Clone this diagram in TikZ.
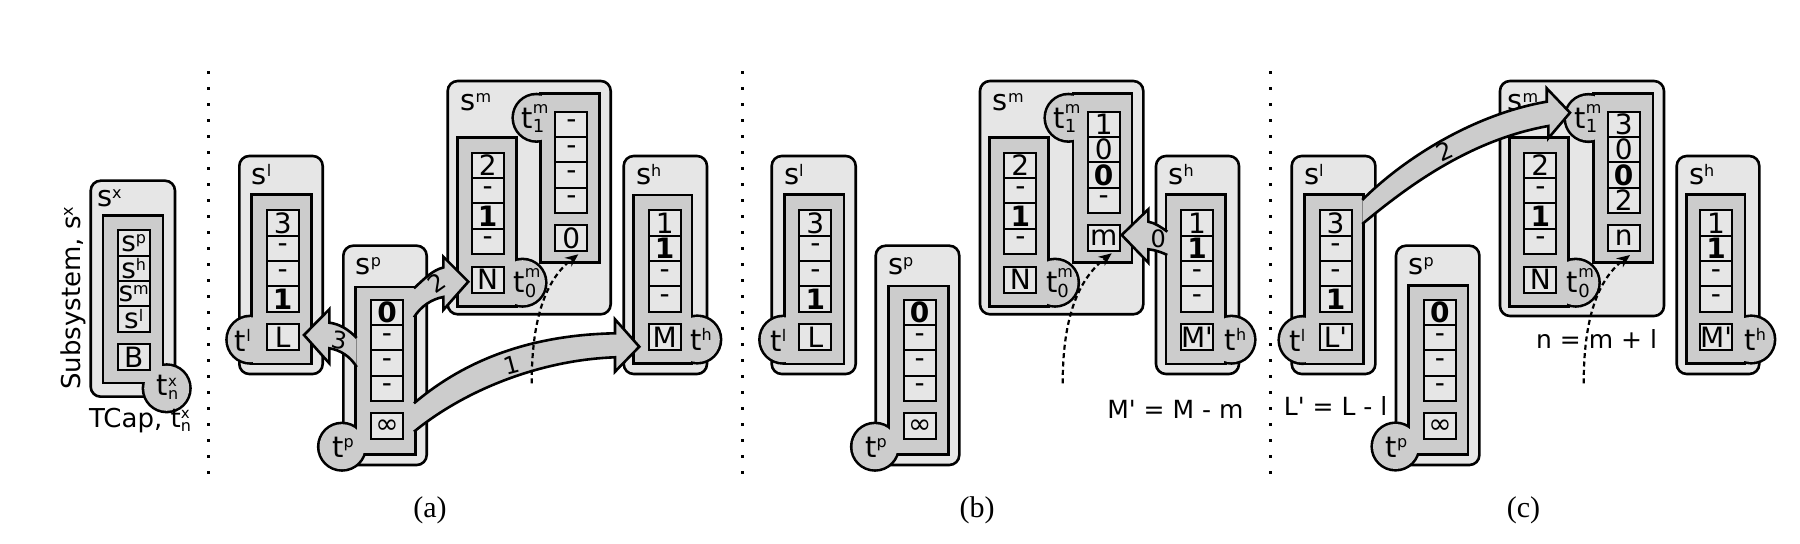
\documentclass[tikz,border=0pt]{standalone}
\usepackage{fontspec}
\setmainfont{DejaVu Sans}
\newfontfamily\serifpanel{Liberation Serif}
\usetikzlibrary{arrows.meta}
\definecolor{outerc}{HTML}{E6E6E6}
\definecolor{innerc}{HTML}{CCCCCC}
\definecolor{cellc}{HTML}{E6E6E6}
\newcommand\fs[1]{\fontsize{#1}{#1}\selectfont}
\newcommand\spx[2]{#1\raisebox{3.9pt}{\fs{8}#2}}
\newcommand\tpx[2]{#1\raisebox{5.2pt}{\fs{8}#2}}
\newcommand\tss[3]{#1\rlap{\raisebox{7.5pt}{\fs{8}#2}}\raisebox{-2.3pt}{\fs{9}#3}}
\newcommand\tsx[3]{#1\rlap{\raisebox{4.6pt}{\fs{7.5}#2}}\raisebox{-1.8pt}{\fs{8}#3}}
\newcommand\q{\textquotesingle}
\newcommand\thread[5]{%
  \draw[line width=2.6pt, fill=innerc] (#1,#2) rectangle (#3,#4);
  \draw[line width=2.6pt, fill=innerc] #5 circle[radius=11.25pt];
  \fill[innerc] (#1,#2) rectangle (#3,#4);
  \fill[innerc] #5 circle[radius=11.25pt];
}
\newcommand\stack[4]{\foreach \v [count=\i] in {#4} {\node[cell] (#1\i) at (#2,{#3+(\i-1)*25.4}) {\v};}}
\newcommand\bigarrow[1]{\fill[innerc] #1 -- cycle; \draw[arrline] #1;}
\tikzset{
  outerbox/.style={draw, fill=outerc, line width=1.3pt, rounded corners=5pt},
  cell/.style={draw, fill=cellc, line width=1pt, minimum width=16pt, minimum height=12.7pt, inner sep=0pt, anchor=north west, font=\fs{14}},
  tcell/.style={cell, minimum height=13pt},
  slabel/.style={anchor=base west, inner sep=0pt, font=\fs{14.5}},
  tlabel/.style={anchor=base, inner sep=0pt, font=\fs{14.5}},
  arrline/.style={draw, line width=1.3pt, line join=miter},
  alabel/.style={font=\fs{12}, inner sep=0pt},
  eq/.style={anchor=base, inner sep=0pt, font=\fs{12.5}},
  dasharrow/.style={line width=1.1pt, dash pattern=on 2.5pt off 1.7pt, -{Stealth[length=6.5pt,width=5.5pt]}},
  panel/.style={font=\serifpanel\fs{15}, inner sep=0pt},
}
\begin{document}
\begin{tikzpicture}[x=0.5pt,y=-0.5pt]
\fill[white] (0,0) rectangle (1800,544);
\useasboundingbox (0,0) rectangle (1800,544);
% dotted separators
\foreach \xx in {208.7,742.3,1270.3} {\foreach \k in {0,...,25} {\fill ({\xx-1.75},{72.7+16*\k-1.75}) rectangle ++(3.5,3.5);}}
% ===== panel x =====
\draw[outerbox] (90.7,180.7) rectangle (175,396.7);
\thread{104.3}{216.7}{161.7}{381.7}{(166.7,388.3)}
\stack{x}{116.7}{229.3}{\spx{s}{p},\spx{s}{h},\spx{s}{m},\spx{s}{l}}
\node[tcell] (xB) at (116.7,343.3) {B};
\node[tlabel] (xt) at (167.5,396) {\tsx{t}{x}{n}};
\node[slabel] (xs) at (96.7,206.7) {\spx{s}{x}};
\node[eq, font=\fs{13}, rotate=90] (subsys) at (80.7,298.3) {Subsystem, \spx{s}{x}};
\node[eq, font=\fs{13}] (tcap) at (140,427.5) {TCap, \tsx{t}{x}{n}};
% ===== panel a =====
\draw[outerbox] (239.3,156) rectangle (322.7,374);
\draw[outerbox] (343.3,245.7) rectangle (426.7,465);
\draw[outerbox] (447.7,81) rectangle (610.7,314.3);
\draw[outerbox] (623.7,156) rectangle (707,374);
\thread{252.7}{196}{310}{362.7}{(250.3,339.7)}
\thread{356.7}{288.3}{414}{453.3}{(342,446.7)}
\thread{458.7}{139}{515}{305}{(522.5,282.7)}
\thread{541.7}{95}{598.3}{261}{(536.5,117.8)}
\thread{635}{196.5}{690.7}{362}{(697.3,339.5)}
\stack{al}{265.7}{209.3}{3,-,-,\bfseries 1}
\node[tcell] (alT) at (265.7,323.3) {L};
\stack{ap}{370}{298.7}{\bfseries 0,-,-,-}
\node[tcell] (apT) at (370,412.3) {∞};
\stack{am}{470.7}{151.7}{2,-,\bfseries 1,-}
\node[tcell] (amT) at (470.7,265.7) {N};
\stack{an}{554.3}{110.7}{-,-,-,-}
\node[tcell] (anT) at (554.3,224) {0};
\stack{ah}{647.7}{209.3}{1,\bfseries 1,-,-}
\node[tcell] (ahT) at (647.7,323.3) {M};
\node[slabel] (als) at (251.3,184.5) {\spx{s}{l}};
\node[slabel] (aps) at (355.3,274.2) {\spx{s}{p}};
\node[slabel] (ams) at (460.2,110.5) {\spx{s}{m}};
\node[slabel] (ahs) at (635.7,184.5) {\spx{s}{h}};
\node[tlabel] (alt) at (242.8,351.5) {\tpx{t}{l}};
\node[tlabel] (apt) at (343,458) {\tpx{t}{p}};
\node[tlabel] (am0) at (525,292.7) {\tss{t}{m}{0}};
\node[tlabel] (am1) at (533,128.3) {\tss{t}{m}{1}};
\node[tlabel] (aht) at (701,351) {\tpx{t}{h}};
% ===== panel b =====
\draw[outerbox] (771.7,156) rectangle (855.7,374);
\draw[outerbox] (875.7,245.7) rectangle (959.3,465);
\draw[outerbox] (980,81) rectangle (1143.3,314.3);
\draw[outerbox] (1156,156) rectangle (1239,374);
\thread{785.7}{196}{842.7}{362.7}{(783.2,339.7)}
\thread{890}{287.5}{947.3}{453.3}{(875,446.7)}
\thread{990.7}{139}{1047.3}{305}{(1055,282.7)}
\thread{1074.3}{95}{1130.7}{261}{(1068.5,117.8)}
\thread{1167.3}{196}{1224}{362.7}{(1231.5,339.7)}
\stack{bl}{798.3}{209.3}{3,-,-,\bfseries 1}
\node[tcell] (blT) at (798.3,323.3) {L};
\stack{bp}{902.7}{298.7}{\bfseries 0,-,-,-}
\node[tcell] (bpT) at (902.7,412.3) {∞};
\stack{bm}{1003.3}{151.7}{2,-,\bfseries 1,-}
\node[tcell] (bmT) at (1003.3,265.7) {N};
\stack{bn}{1086.7}{110.7}{1,0,\bfseries 0,-}
\node[tcell] (bnT) at (1086.7,224) {m};
\stack{bh}{1180}{209.3}{1,\bfseries 1,-,-}
\node[tcell] (bhT) at (1180,323.3) {M\q};
\node[slabel] (bls) at (783.7,184.5) {\spx{s}{l}};
\node[slabel] (bps) at (887.7,274.2) {\spx{s}{p}};
\node[slabel] (bms) at (992.5,110.5) {\spx{s}{m}};
\node[slabel] (bhs) at (1168,184.5) {\spx{s}{h}};
\node[tlabel] (blt) at (778.5,351.5) {\tpx{t}{l}};
\node[tlabel] (bpt) at (876,458) {\tpx{t}{p}};
\node[tlabel] (bm0) at (1057.5,292.7) {\tss{t}{m}{0}};
\node[tlabel] (bm1) at (1065,128.3) {\tss{t}{m}{1}};
\node[tlabel] (bht) at (1235.5,351) {\tpx{t}{h}};
\node[eq] (beq) at (1175.3,418.3) {M\q{} = M - m};
% ===== panel c =====
\draw[outerbox] (1291.7,156) rectangle (1375.4,374);
\draw[outerbox] (1396,245.7) rectangle (1479.4,465);
\draw[outerbox] (1500,81) rectangle (1664,316);
\draw[outerbox] (1676.7,156) rectangle (1759.3,374);
\thread{1305.5}{196}{1362.3}{362.7}{(1302.5,340)}
\thread{1409.8}{287}{1466.6}{453}{(1395.5,446.5)}
\thread{1511}{139}{1567.3}{305}{(1575.8,282.7)}
\thread{1595}{95}{1651.7}{261}{(1588.5,118)}
\thread{1687.7}{196}{1743.8}{362.5}{(1751.3,339.5)}
\stack{cl}{1318.5}{209.3}{3,-,-,\bfseries 1}
\node[tcell] (clT) at (1318.5,323.3) {L\q};
\stack{cp}{1422.9}{298.7}{\bfseries 0,-,-,-}
\node[tcell] (cpT) at (1422.9,412.3) {∞};
\stack{cm}{1523.3}{151.7}{2,-,\bfseries 1,-}
\node[tcell] (cmT) at (1523.3,265.7) {N};
\stack{cn}{1606.7}{110.7}{3,0,\bfseries 0,2}
\node[tcell] (cnT) at (1606.7,224) {n};
\stack{ch}{1699}{209.3}{1,\bfseries 1,-,-}
\node[tcell] (chT) at (1699,323.3) {M\q};
\node[slabel] (cls) at (1303.7,184.5) {\spx{s}{l}};
\node[slabel] (cps) at (1408,274.2) {\spx{s}{p}};
\node[slabel] (cms) at (1507,110.5) {\spx{s}{m}};
\node[slabel] (chs) at (1688.7,184.5) {\spx{s}{h}};
\node[tlabel] (clt) at (1297.3,351.5) {\tpx{t}{l}};
\node[tlabel] (cpt) at (1396.5,458) {\tpx{t}{p}};
\node[tlabel] (cm0) at (1578.3,292.7) {\tss{t}{m}{0}};
\node[tlabel] (cm1) at (1586,128.3) {\tss{t}{m}{1}};
\node[tlabel] (cht) at (1755.3,351) {\tpx{t}{h}};
\node[eq] (cleq) at (1335.7,416) {L\q{} = L - l};
\node[eq] (cneq) at (1596.6,348.3) {n = m + l};
% ===== big arrows =====
\bigarrow{(414,403.3) .. controls (465,360) and (530,335) .. (615,333.3) -- (615,319.3) -- (639.3,346.7) -- (615,371.7) -- (615,357.3) .. controls (540,360) and (465,390) .. (414,431.7)}
\bigarrow{(414,288.3) .. controls (425,278) and (433,270) .. (443.3,267.5) -- (443.3,256.7) -- (468.3,281.7) -- (443.3,310) -- (443.3,297) .. controls (432,299) and (421,306) .. (414,317.3)}
\bigarrow{(356.7,338) .. controls (349,330) and (340,324) .. (329.3,322.7) -- (329.3,309.3) -- (304,335) -- (329.3,363.3) -- (329.3,348.3) .. controls (340,350) and (350,356) .. (356.7,367)}
\bigarrow{(1167.3,231.7) .. controls (1161,227) and (1155,223) .. (1148.3,221.7) -- (1148.3,209.3) -- (1121.7,235) -- (1148.3,262.7) -- (1148.3,249.3) .. controls (1155,250) and (1161,252) .. (1167.3,255)}
\bigarrow{(1362.3,200) .. controls (1400,162) and (1470,115) .. (1546.7,101.7) -- (1546.7,88.3) -- (1570,112.7) -- (1548.3,138.3) -- (1548.3,126) .. controls (1470,140) and (1408,186) .. (1362.3,224)}
% ===== dashed arrows =====
\draw[dasharrow] (531.7,383.3) .. controls (531.7,320) and (545,280) .. (578.3,254.3);
\draw[dasharrow] (1062.7,383.3) .. controls (1062.7,320) and (1077,280) .. (1111.7,253.3);
\draw[dasharrow] (1583.7,383.3) .. controls (1583.7,320) and (1597,280) .. (1630,255);
% ===== arrow labels =====
\node[alabel, rotate=15] (l1) at (511.7,365) {1};
\node[alabel, rotate=35] (l2) at (436.7,283.3) {2};
\node[alabel, rotate=-10] (l3) at (339.3,340) {3};
\node[alabel] (l0) at (1158.3,238.3) {0};
\node[alabel, rotate=25] (l2c) at (1445,151.7) {2};
% ===== panel captions =====
\node[panel] (pa) at (430,510) {(a)};
\node[panel] (pb) at (977,510) {(b)};
\node[panel] (pc) at (1523.4,510) {(c)};
\end{tikzpicture}
\end{document}
